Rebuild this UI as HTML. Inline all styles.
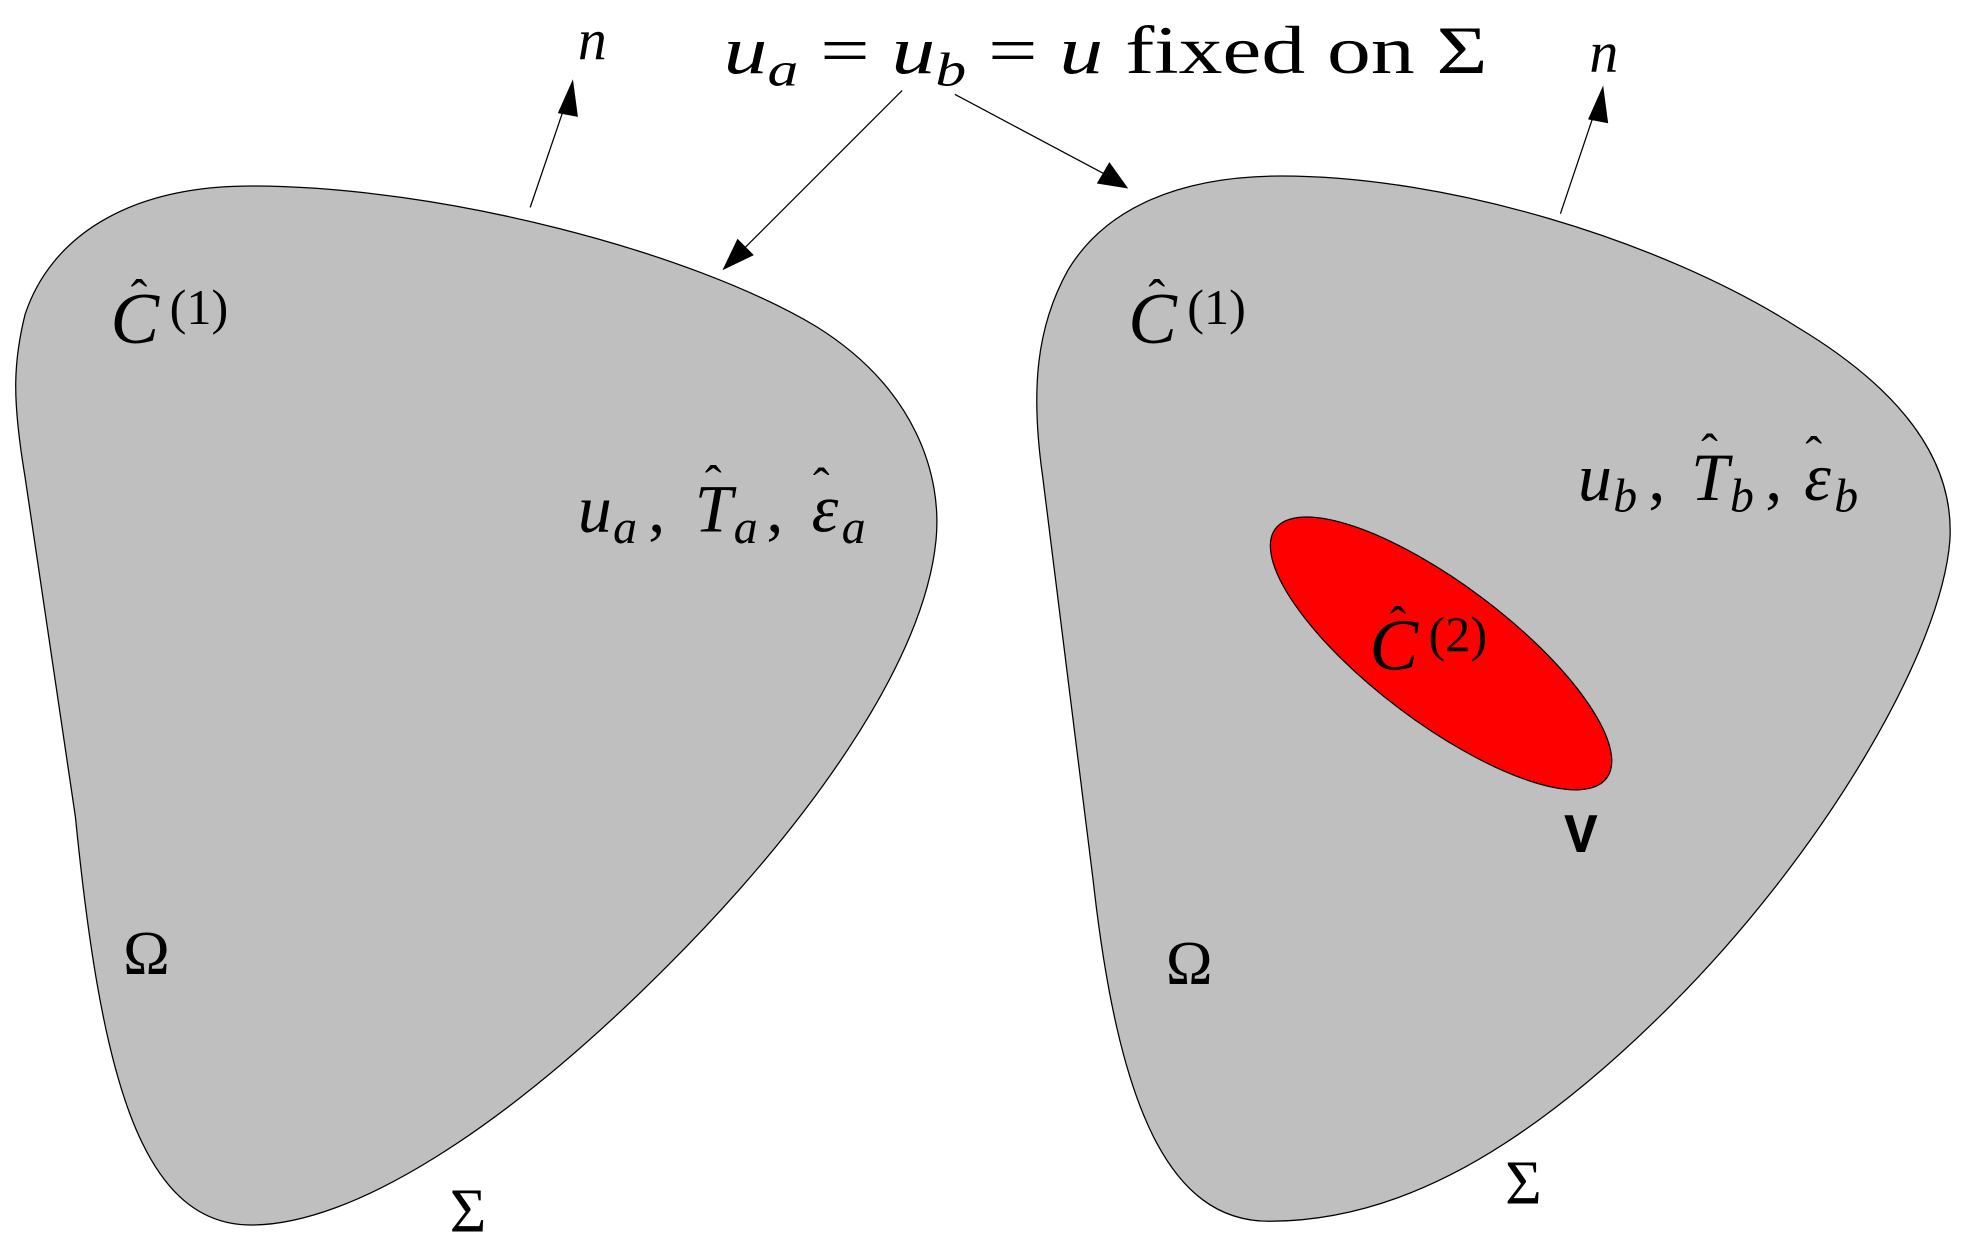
<!DOCTYPE html>
<html><head><meta charset="utf-8"><style>
html,body{margin:0;padding:0;background:#fff;}
svg{display:block;}
text{font-family:"Liberation Serif",serif;fill:#000;}
.i{font-style:italic;}
</style></head><body>
<svg width="1970" height="1249" viewBox="0 0 1568 994" xmlns="http://www.w3.org/2000/svg">
<path d="M 200,148 C 350,148 550,200 650,260 C 730,310 750,380 745,430 C 735,530 640,660 530,770 C 400,900 280,975 200,975 C 110,975 80,850 60,650 L 20,380 C 10,320 10,290 20,250 C 40,190 100,148 200,148 Z" fill="#bfbfbf" stroke="#000" stroke-width="1"/>
<path d="M 1020,140 C 1150,140 1320,190 1430,260 C 1530,320 1555,380 1552,430 C 1545,520 1450,680 1330,800 C 1200,930 1100,972 1010,972 C 930,972 890,880 870,700 L 830,380 C 820,310 825,260 850,215 C 880,165 940,140 1020,140 Z" fill="#bfbfbf" stroke="#000" stroke-width="1"/>
<ellipse cx="1147" cy="520" rx="165" ry="55" transform="rotate(37 1147 520)" fill="#ff0000" stroke="#000" stroke-width="1"/>
<g stroke="#000" stroke-width="1" fill="none">
<line x1="422" y1="165" x2="451" y2="80"/>
<line x1="1242" y1="170" x2="1271" y2="84"/>
<line x1="718" y1="72" x2="590" y2="200"/>
<line x1="760" y1="75" x2="882" y2="140"/>
</g>
<g fill="#000">
<polygon points="456,63 444,90 460,93"/>
<polygon points="1276,68 1264,95 1280,98"/>
<polygon points="575,215 587,190 600,203"/>
<polygon points="898,150 873,146 883,129"/>
</g>
<text class="i" x="460" y="47" font-size="46">n</text>
<text class="i" x="1265" y="57" font-size="46">n</text>
<text x="576" y="58" font-size="54" textLength="608" lengthAdjust="spacingAndGlyphs"><tspan class="i">u</tspan><tspan class="i" font-size="38" dy="10">a</tspan><tspan dy="-10"> = </tspan><tspan class="i">u</tspan><tspan class="i" font-size="38" dy="10">b</tspan><tspan dy="-10"> = </tspan><tspan class="i">u</tspan><tspan> fixed on Σ</tspan></text>

<g font-size="58">
<text class="i" x="88" y="273">C</text><text x="104" y="250" font-size="40">ˆ</text><text x="135" y="258" font-size="40">(1)</text>
<text class="i" x="898" y="273">C</text><text x="914" y="250" font-size="40">ˆ</text><text x="945" y="258" font-size="40">(1)</text>
<text class="i" x="1090" y="533">C</text><text x="1106" y="510" font-size="40">ˆ</text><text x="1137" y="518" font-size="40">(2)</text>
</g>

<g font-size="54">
<text class="i" x="460" y="423">u</text><text class="i" x="488" y="432" font-size="38">a</text><text x="516" y="423">,</text>
<text class="i" x="553" y="423">T</text><text x="561" y="398" font-size="40">ˆ</text><text class="i" x="584" y="432" font-size="38">a</text><text x="610" y="423">,</text>
<text class="i" x="646" y="423">ε</text><text x="647" y="400" font-size="40">ˆ</text><text class="i" x="670" y="432" font-size="38">a</text>

<text class="i" x="1256" y="398">u</text><text class="i" x="1284" y="407" font-size="38">b</text><text x="1312" y="398">,</text>
<text class="i" x="1346" y="398">T</text><text x="1354" y="373" font-size="40">ˆ</text><text class="i" x="1377" y="407" font-size="38">b</text><text x="1405" y="398">,</text>
<text class="i" x="1436" y="398">ε</text><text x="1437" y="375" font-size="40">ˆ</text><text class="i" x="1460" y="407" font-size="38">b</text>
</g>

<text x="1245" y="678" font-size="44" style="font-family:'Liberation Mono',monospace;font-weight:bold">V</text>
<text x="98" y="775" font-size="50">Ω</text>
<text x="928" y="783" font-size="50">Ω</text>
<text x="358" y="980" font-size="50">Σ</text>
<text x="1198" y="958" font-size="50">Σ</text>
</svg>
</body></html>
